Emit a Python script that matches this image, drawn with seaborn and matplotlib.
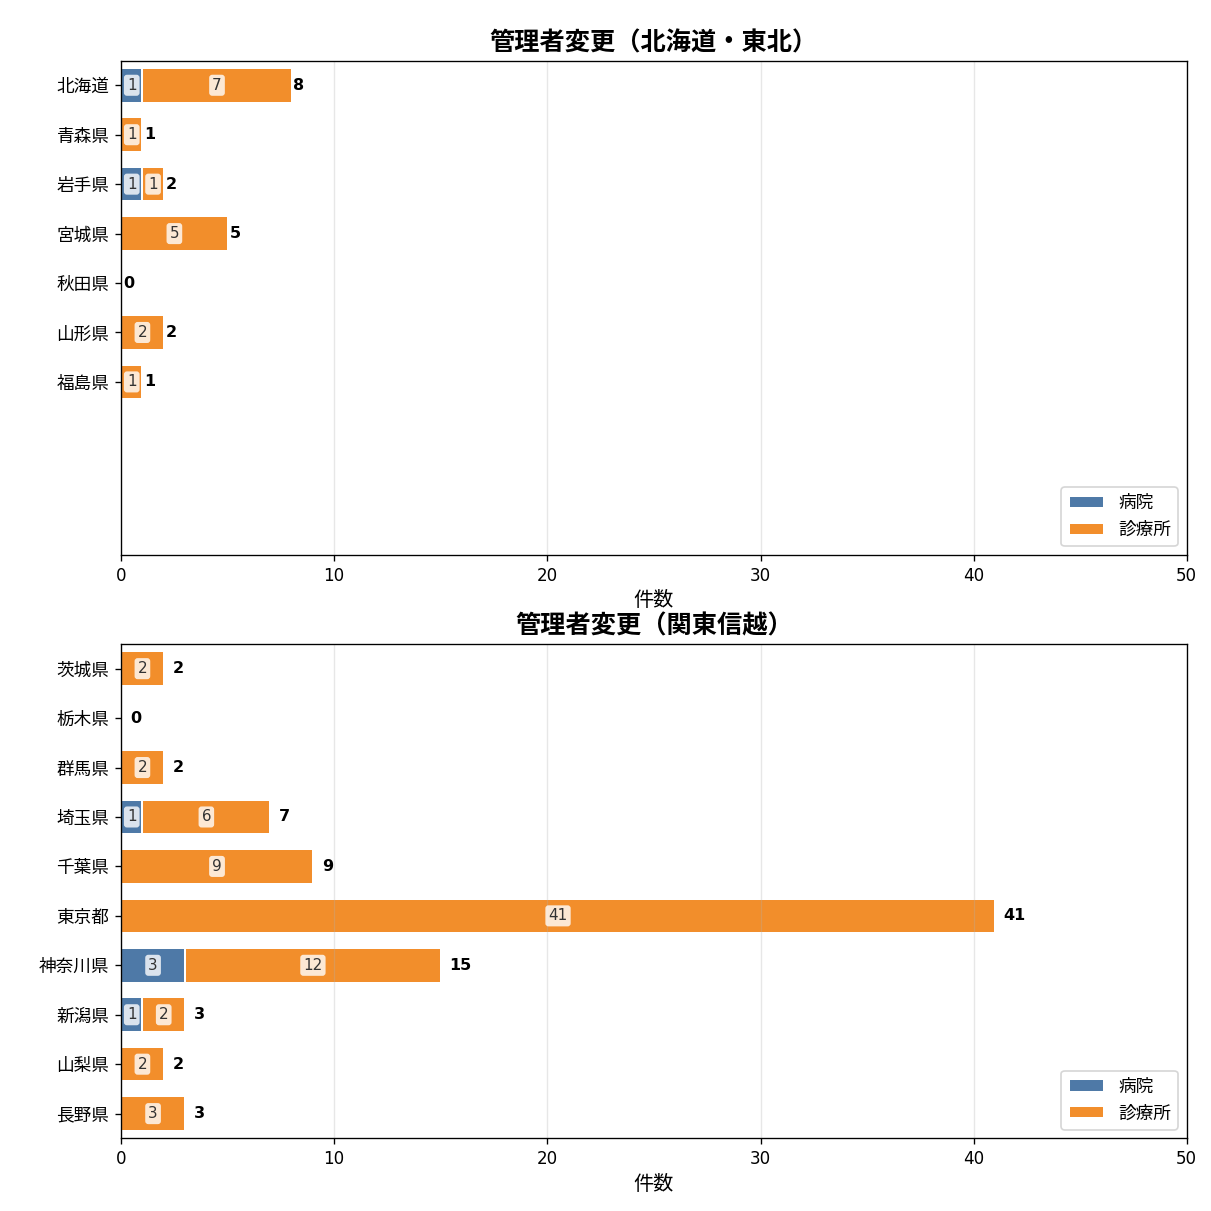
import pandas as pd
import matplotlib
matplotlib.use('Agg')
import matplotlib.pyplot as plt
import seaborn as sns

plt.rcParams['font.family'] = ['DejaVu Sans', 'Noto Sans CJK JP']

# データ
tohoku_pref = ['北海道', '青森県', '岩手県', '宮城県', '秋田県', '山形県', '福島県']
tohoku_hospital = [1, 0, 1, 0, 0, 0, 0]
tohoku_clinic = [7, 1, 1, 5, 0, 2, 1]

kanto_pref = ['茨城県', '栃木県', '群馬県', '埼玉県', '千葉県', '東京都', '神奈川県',
              '新潟県', '山梨県', '長野県']
kanto_hospital = [0, 0, 0, 1, 0, 0, 3, 1, 0, 0]
kanto_clinic = [2, 0, 2, 6, 9, 41, 12, 2, 2, 3]

titles = ['管理者変更（北海道・東北）', '管理者変更（関東信越）']

C_HOSP = '#4e79a7'
C_CLIN = '#f28e2b'


def draw_panel(ax, prefs, hosp, clin, title):
    df = pd.DataFrame({'pref': prefs, 'hospital': hosp, 'clinic': clin})
    df['total'] = df['hospital'] + df['clinic']

    # 合計を診療所色で描き、その上に病院を重ねて積み上げにする
    sns.barplot(data=df, y='pref', x='total', order=prefs, color=C_CLIN,
                orient='h', width=0.7, edgecolor='white', linewidth=1.2,
                saturation=1, label='診療所', ax=ax, zorder=1)
    sns.barplot(data=df, y='pref', x='hospital', order=prefs, color=C_HOSP,
                orient='h', width=0.7, edgecolor='white', linewidth=1.2,
                saturation=1, label='病院', ax=ax, zorder=1)

    offset = df['total'].max() * 0.01
    for i, row in df.iterrows():
        if row['hospital'] > 0:
            ax.text(row['hospital'] / 2, i, str(row['hospital']), ha='center', va='center',
                    fontsize=9, color='#333333',
                    bbox=dict(boxstyle='round,pad=0.2', fc='white', ec='none', alpha=0.8))
        if row['clinic'] > 0:
            ax.text(row['hospital'] + row['clinic'] / 2, i, str(row['clinic']),
                    ha='center', va='center', fontsize=9, color='#333333',
                    bbox=dict(boxstyle='round,pad=0.2', fc='white', ec='none', alpha=0.8))
        ax.text(row['total'] + offset, i, str(row['total']), ha='left', va='center',
                fontsize=9.5, fontweight='bold')

    ax.set_xlim(0, 50)
    ax.set_ylim(9.5, -0.5)
    ax.set_title(title, fontsize=15, fontweight='bold')
    ax.set_xlabel('件数', fontsize=12)
    ax.set_ylabel('')
    ax.tick_params(axis='y', labelsize=10.5)
    ax.grid(axis='x', alpha=0.3)
    handles, labels = ax.get_legend_handles_labels()
    ax.legend(handles[::-1], labels[::-1], loc='lower right', fontsize=10.5)


fig, axes = plt.subplots(2, 1, figsize=(10, 10), dpi=121.1)
draw_panel(axes[0], tohoku_pref, tohoku_hospital, tohoku_clinic, titles[0])
draw_panel(axes[1], kanto_pref, kanto_hospital, kanto_clinic, titles[1])
fig.subplots_adjust(left=0.1, right=0.98, top=0.95, bottom=0.06, hspace=0.18)
plt.savefig('out.png', dpi=121.1)
